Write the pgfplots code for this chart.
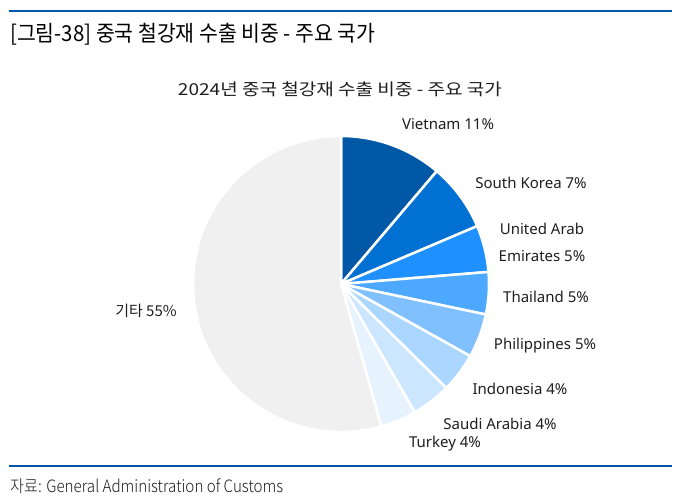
\documentclass[border=0pt]{standalone}
\usepackage{pgfplots}
\pgfplotsset{compat=1.18}
\usepackage{pgfplotstable}
\usepackage{graphicx}
\usepackage{fontspec}
\setmainfont{Noto Sans}
\newfontfamily\kr{Noto Sans CJK KR}
\newfontfamily\krlight{Noto Sans CJK KR Light}
\definecolor{c1}{RGB}{0,88,166}
\definecolor{c2}{RGB}{0,112,210}
\definecolor{c3}{RGB}{30,144,255}
\definecolor{c4}{RGB}{77,168,255}
\definecolor{c5}{RGB}{128,192,255}
\definecolor{c6}{RGB}{170,214,255}
\definecolor{c7}{RGB}{205,230,255}
\definecolor{c8}{RGB}{230,243,255}
\definecolor{c9}{RGB}{240,240,240}
\definecolor{rule}{RGB}{0,86,168}
\definecolor{txt}{RGB}{30,30,30}
\pgfplotstableread[col sep=comma]{
name,value,color
Vietnam,11.2,c1
South Korea,7.4,c2
United Arab Emirates,5.1,c3
Thailand,4.6,c4
Philippines,4.8,c5
Indonesia,4.3,c6
Saudi Arabia,4.3,c7
Turkey,3.9,c8
Others,54.4,c9
}\piedata
\begin{document}
\begin{tikzpicture}
\begin{axis}[
  scale only axis, width=693pt, height=498pt,
  xmin=0, xmax=693, ymin=0, ymax=498,
  enlargelimits=false, hide axis, clip=false,
]
\pgfplotsextra{
  \pgfplotstablegetrowsof{\piedata}
  \pgfmathtruncatemacro\N{\pgfplotsretval-1}
  \gdef\cum{0}
  \foreach \i in {0,...,\N}{
    \pgfplotstablegetelem{\i}{value}\of\piedata \let\v\pgfplotsretval
    \pgfplotstablegetelem{\i}{color}\of\piedata \let\c\pgfplotsretval
    \pgfmathsetmacro\a{90-3.6*\cum}
    \pgfmathsetmacro\b{90-3.6*(\cum+\v)}
    \path[fill=\c, draw=white, line width=2.5pt, line join=round]
      (axis cs:341,214) -- ++(\a:148pt) arc[start angle=\a, end angle=\b, radius=148pt] -- cycle;
    \pgfmathsetmacro\nc{\cum+\v}\xdef\cum{\nc}
  }
  \path (axis cs:0,0) rectangle (axis cs:693,498);
}
% rules
\draw[rule, line width=1.3pt] (axis cs:9,487) -- (axis cs:672,487);
\draw[rule, line width=1.3pt] (axis cs:9,32) -- (axis cs:672,32);
% titles
\node[anchor=west, inner sep=0pt, text=black] at (axis cs:10,464)
  {\resizebox{365pt}{\height}{\fontsize{22}{26}\kr [그림-38] 중국 철강재 수출 비중 - 주요 국가}};
\node[inner sep=0pt, text=txt] at (axis cs:340,409)
  {\resizebox{324pt}{\height}{\fontsize{16.5}{20}\kr 2024년 중국 철강재 수출 비중 - 주요 국가}};
% labels
\begin{scope}[every node/.style={inner sep=0pt, text=txt, font=\fontsize{15}{18}\selectfont}]
\node at (axis cs:448,374) {Vietnam 11\%};
\node at (axis cs:531,315) {South Korea 7\%};
\node at (axis cs:542,269) {United Arab};
\node at (axis cs:542,242) {Emirates 5\%};
\node at (axis cs:546,201) {Thailand 5\%};
\node at (axis cs:545,152) {Philippines 5\%};
\node at (axis cs:520,109) {Indonesia 4\%};
\node at (axis cs:500,74) {Saudi Arabia 4\%};
\node at (axis cs:445,54) {Turkey 4\%};
\node at (axis cs:146,187) {\kr 기타 55\%};
\end{scope}
\node[anchor=west, inner sep=0pt, text=txt] at (axis cs:10,12)
  {\resizebox{273pt}{\height}{\fontsize{17}{20}\krlight 자료: General Administration of Customs}};
\end{axis}
\end{tikzpicture}
\end{document}
